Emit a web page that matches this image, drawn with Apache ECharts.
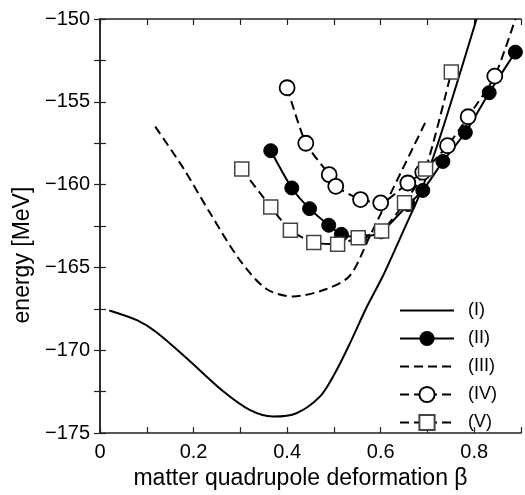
<!DOCTYPE html>
<html>
<head>
<meta charset="utf-8">
<script src="https://cdn.jsdelivr.net/npm/echarts@6/dist/echarts.min.js"></script>
<style>
  html, body { margin: 0; padding: 0; background: #fff; }
  #chart { width: 525px; height: 495px; }
</style>
</head>
<body>
<div id="chart"></div>
<script>
// curve (I): solid line, no markers
const curve1X = [0.02, 0.08, 0.12, 0.19, 0.26, 0.32, 0.37, 0.42, 0.47, 0.50, 0.534, 0.57, 0.605, 0.65, 0.687, 0.726, 0.765, 0.805]
const curve1Y = [-167.6, -168.2, -168.9, -170.6, -172.4, -173.6, -174.0, -173.8, -172.8, -171.5, -169.6, -167.4, -165.5, -162.7, -160.35, -157.2, -153.7, -150.0]
// curve (II): solid line, filled circles
const curve2X = [0.365, 0.41, 0.448, 0.489, 0.516, 0.556, 0.601, 0.659, 0.69, 0.733, 0.781, 0.832, 0.888]
const curve2Y = [-157.95, -160.2, -161.45, -162.45, -163.0, -163.2, -162.85, -161.2, -160.35, -158.6, -156.85, -154.45, -152.0]
// curve (III): dashed line, no markers
const curve3X = [0.118, 0.178, 0.235, 0.30, 0.356, 0.413, 0.484, 0.534, 0.577, 0.634, 0.698]
const curve3Y = [-156.5, -159.0, -161.7, -164.6, -166.3, -166.75, -166.3, -165.5, -163.1, -159.8, -156.1]
// curve (IV): dashed line, open circles (last point is the line end, no marker)
const curve4X = [0.40, 0.44, 0.49, 0.504, 0.557, 0.60, 0.658, 0.69, 0.743, 0.787, 0.844, 0.888]
const curve4Y = [-154.15, -157.5, -159.4, -160.1, -160.9, -161.1, -159.9, -159.25, -157.65, -155.9, -153.45, -150.0]
// curve (V): dashed line, open squares
const curve5X = [0.303, 0.365, 0.407, 0.457, 0.508, 0.552, 0.602, 0.651, 0.696, 0.751]
const curve5Y = [-159.05, -161.35, -162.75, -163.5, -163.6, -163.2, -162.8, -161.1, -159.05, -153.2]

const names = ['(I)', '(II)', '(III)', '(IV)', '(V)']
const xLabels = ['0', '0.2', '0.4', '0.6', '0.8']
const yLabels = ['\u2212175', '\u2212170', '\u2212165', '\u2212160', '\u2212155', '\u2212150']

const zip = (xs, ys) => xs.map((x, i) => [x, ys[i]])
const font = 'Liberation Sans, Arial, sans-serif'
const dash = [9, 5]

const chart = echarts.init(document.getElementById('chart'))

const tickStyle = { show: true, inside: true, length: 6, lineStyle: { color: '#222', width: 1.2 } }
const lineAxis = { show: true, lineStyle: { color: '#222', width: 1.5 } }
const hidden = { color: 'rgba(0,0,0,0)', borderColor: 'rgba(0,0,0,0)', borderWidth: 0, opacity: 0 }

const series = [
  {
    name: names[0],
    type: 'line',
    data: zip(curve1X, curve1Y),
    smooth: 0.3,
    symbol: 'none',
    lineStyle: { color: '#000', width: 2 },
    itemStyle: { color: '#000' },
  },
  {
    name: names[1],
    type: 'line',
    data: zip(curve2X, curve2Y),
    smooth: 0.2,
    symbol: 'circle',
    symbolSize: 14,
    lineStyle: { color: '#000', width: 2 },
    itemStyle: { color: '#000', borderColor: '#000' },
  },
  {
    name: names[2],
    type: 'line',
    data: zip(curve3X, curve3Y),
    smooth: 0.3,
    symbol: 'none',
    lineStyle: { color: '#000', width: 2, type: dash },
    itemStyle: { color: '#000' },
  },
  {
    name: names[3],
    type: 'line',
    data: zip(curve4X, curve4Y).map((p, i, arr) =>
      i === arr.length - 1 ? { value: p, symbol: 'none' } : p),
    smooth: 0.2,
    symbol: 'circle',
    symbolSize: 15,
    lineStyle: { color: '#000', width: 2, type: dash },
    itemStyle: { color: '#fff', borderColor: '#000', borderWidth: 1.8 },
  },
  {
    name: names[4],
    type: 'line',
    data: zip(curve5X, curve5Y),
    smooth: 0.2,
    symbol: 'rect',
    symbolSize: 14,
    lineStyle: { color: '#000', width: 2, type: dash },
    itemStyle: { color: '#fff', borderColor: '#444', borderWidth: 1.5 },
  },
]

chart.setOption({
  animation: false,
  backgroundColor: '#fff',
  textStyle: { fontFamily: font },
  grid: { left: 100, right: 4, top: 19, bottom: 55, containLabel: false },
  legend: {
    data: [
      { name: names[0], itemStyle: hidden },
      { name: names[1] },
      { name: names[2], itemStyle: hidden },
      { name: names[3] },
      { name: names[4] },
    ],
    orient: 'vertical',
    left: 399,
    top: 301,
    padding: 0,
    itemWidth: 54,
    itemHeight: 19,
    itemGap: 9,
    textStyle: { fontSize: 18, color: '#000', fontFamily: font, padding: [0, 0, 0, 9], lineHeight: 19 },
  },
  xAxis: [
    {
      type: 'value',
      min: 0,
      max: 0.9,
      interval: 0.1,
      position: 'bottom',
      name: 'matter quadrupole deformation β',
      nameLocation: 'middle',
      nameGap: 27,
      nameTextStyle: { fontSize: 23, color: '#000', fontFamily: font, padding: [0, 20, 0, 0] },
      axisLine: lineAxis,
      axisTick: tickStyle,
      splitLine: { show: false },
      axisLabel: {
        fontSize: 20,
        color: '#000',
        margin: 9,
        formatter: (v) => {
          const k = Math.round(v * 10)
          return k % 2 === 0 ? xLabels[k / 2] || '' : ''
        },
      },
    },
    {
      type: 'value',
      min: 0,
      max: 0.9,
      interval: 0.1,
      position: 'top',
      axisLine: lineAxis,
      axisTick: tickStyle,
      axisLabel: { show: false },
      splitLine: { show: false },
    },
  ],
  yAxis: [
    {
      type: 'value',
      min: -175,
      max: -150,
      interval: 2.5,
      position: 'left',
      name: 'energy [MeV]',
      nameLocation: 'middle',
      nameGap: 62,
      nameRotate: 90,
      nameTextStyle: { fontSize: 23, color: '#000', fontFamily: font, padding: [0, 58, 0, 0] },
      axisLine: lineAxis,
      axisTick: tickStyle,
      splitLine: { show: false },
      axisLabel: {
        fontSize: 20,
        color: '#000',
        margin: 10,
        formatter: (v) => {
          const k = Math.round((v + 175) / 2.5)
          return k % 2 === 0 ? yLabels[k / 2] || '' : ''
        },
      },
    },
    {
      type: 'value',
      min: -175,
      max: -150,
      interval: 2.5,
      position: 'right',
      axisLine: lineAxis,
      axisTick: tickStyle,
      axisLabel: { show: false },
      splitLine: { show: false },
    },
  ],
  series: series,
})
</script>
</body>
</html>
